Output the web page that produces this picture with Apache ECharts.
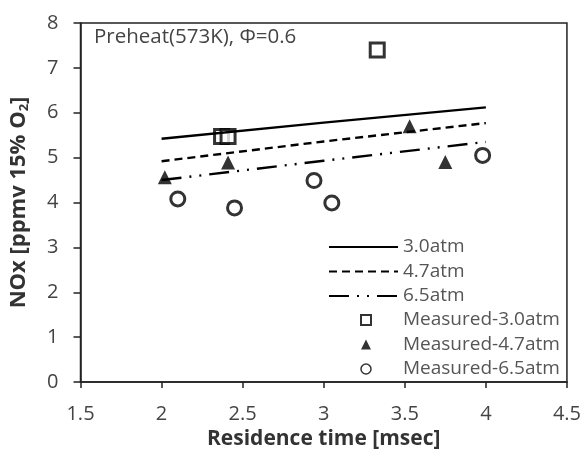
<!DOCTYPE html>
<html>
<head>
<meta charset="utf-8">
<script src="https://cdn.jsdelivr.net/npm/echarts@6/dist/echarts.min.js"></script>
<style>
  html, body { margin: 0; padding: 0; background: #fff; }
  #main { width: 584px; height: 459px; }
</style>
</head>
<body>
<div id="main"></div>
<script>
// model lines (x = residence time, y = NOx)
var lineX = [2, 3, 4];
var line30 = [5.42, 5.78, 6.12];
var line47 = [4.92, 5.36, 5.77];
var line65 = [4.5, 4.93, 5.35];

// measured points
var meas30 = [[2.37, 5.47], [2.41, 5.47], [3.33, 7.4]];
var meas47 = [[2.02, 4.56], [2.41, 4.89], [3.53, 5.7], [3.75, 4.9]];
var meas65 = [[2.1, 4.08], [2.45, 3.88], [2.94, 4.49], [3.05, 3.99], [3.98, 5.05]];

var xTicks = [1.5, 4.5, 0.5];   // min, max, interval
var yTicks = [0, 8, 1];

function pairs(xs, ys) {
  return xs.map(function (x, i) { return [x, ys[i]]; });
}

var chartDom = document.getElementById('main');
var myChart = echarts.init(chartDom);
var font = '"Open Sans", Lato, sans-serif';
var legendText = { fontSize: 19, color: '#555', lineHeight: 20 };

var option = {
  animation: false,
  textStyle: { fontFamily: font },
  grid: { left: 79, right: 14, top: 23, bottom: 77, show: true, borderColor: '#222', borderWidth: 1.5 },
  xAxis: {
    type: 'value',
    min: xTicks[0], max: xTicks[1], interval: xTicks[2],
    name: 'Residence time [msec]',
    nameLocation: 'middle',
    nameGap: 46,
    nameTextStyle: { fontSize: 21, fontWeight: 'bold', color: '#333', fontFamily: font },
    axisLine: { onZero: false, lineStyle: { color: '#222', width: 1.5 } },
    axisTick: { length: 6, lineStyle: { color: '#222', width: 1.5 } },
    axisLabel: { fontSize: 20, color: '#444', margin: 22 },
    splitLine: { show: false }
  },
  yAxis: {
    type: 'value',
    min: yTicks[0], max: yTicks[1], interval: yTicks[2],
    name: 'NOx [ppmv 15% O{sub|2}]',
    nameLocation: 'middle',
    nameGap: 50,
    nameTextStyle: {
      fontSize: 22, fontWeight: 'bold', color: '#333', fontFamily: font,
      rich: { sub: { fontSize: 13, fontWeight: 'bold', verticalAlign: 'bottom', padding: [10, 0, 0, 0] } }
    },
    axisLine: { show: true, lineStyle: { color: '#222', width: 1.5 } },
    axisTick: { show: true, length: 7, lineStyle: { color: '#222', width: 1.5 } },
    axisLabel: { fontSize: 20, color: '#444', margin: 22 },
    splitLine: { show: false }
  },
  legend: [
    {
      orient: 'vertical',
      left: 323, top: 232,
      itemWidth: 69, itemHeight: 11,
      itemGap: 4.5,
      textStyle: legendText,
      data: [
        { name: '3.0atm', itemStyle: { opacity: 0 } },
        { name: '4.7atm', itemStyle: { opacity: 0 } },
        { name: '6.5atm', itemStyle: { opacity: 0 } }
      ]
    },
    {
      orient: 'vertical',
      left: 355, top: 305,
      itemWidth: 10, itemHeight: 10,
      itemGap: 4.5,
      textStyle: Object.assign({ padding: [0, 0, 0, 27] }, legendText),
      data: [
        { name: 'Measured-3.0atm', itemStyle: { borderWidth: 2 } },
        { name: 'Measured-4.7atm' },
        { name: 'Measured-6.5atm', itemStyle: { borderWidth: 1.5 } }
      ]
    }
  ],
  graphic: [{
    type: 'text', left: 94, top: 27,
    style: { text: 'Preheat(573K), \u03A6=0.6', fontSize: 20.5, fill: '#444', fontFamily: font }
  }],
  series: [
    {
      name: '3.0atm', type: 'line', data: pairs(lineX, line30),
      symbol: 'none', lineStyle: { color: '#000', width: 2.4 }, itemStyle: { color: '#000' }
    },
    {
      name: '4.7atm', type: 'line', data: pairs(lineX, line47),
      symbol: 'none', lineStyle: { color: '#000', width: 2.4, type: [8, 5] }, itemStyle: { color: '#000' }
    },
    {
      name: '6.5atm', type: 'line', data: pairs(lineX, line65),
      symbol: 'none', lineStyle: { color: '#000', width: 2.4, type: [20, 8, 2, 8, 2, 8] }, itemStyle: { color: '#000' }
    },
    {
      name: 'Measured-3.0atm', type: 'scatter', data: meas30,
      symbol: 'rect', symbolSize: 14,
      itemStyle: { color: '#fff', borderColor: '#000', borderWidth: 3 }
    },
    {
      name: 'Measured-4.7atm', type: 'scatter', data: meas47,
      symbol: 'triangle', symbolSize: 14,
      itemStyle: { color: '#000' }
    },
    {
      name: 'Measured-6.5atm', type: 'scatter', data: meas65,
      symbol: 'circle', symbolSize: 14,
      itemStyle: { color: '#fff', borderColor: '#000', borderWidth: 3 }
    }
  ]
};
myChart.setOption(option);
</script>
</body>
</html>
